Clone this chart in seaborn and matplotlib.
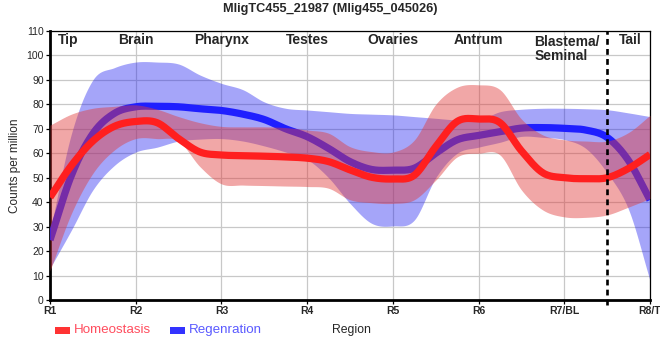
import numpy as np
import pandas as pd
import matplotlib
matplotlib.use("Agg")
import matplotlib.pyplot as plt
import seaborn as sns
from matplotlib.patches import Rectangle

# ---------------- data ----------------
title = "MligTC455_21987 (Mlig455_045026)"
tick_labels = ["R1", "R2", "R3", "R4", "R5", "R6", "R7/BL", "R8/T"]
region_names = ["Tip", "Brain", "Pharynx", "Testes", "Ovaries", "Antrum", "Blastema/\nSeminal", "Tail"]

pos = [1, 1.25, 1.5, 1.75, 2, 2.25, 2.5, 2.75, 3, 3.25, 3.5, 3.75, 4, 4.25, 4.5,
       4.75, 5, 5.25, 5.5, 5.75, 6, 6.25, 6.5, 6.75, 7, 7.25, 7.5, 7.75, 8]

homeo_mean = [42, 55, 65, 71, 73, 72.5, 66, 60.5, 59.3, 59, 58.8, 58.5, 58, 56.6, 53.2,
              50.2, 49.5, 51, 62.7, 73, 74, 72.5, 61, 52, 50, 49.6, 50, 53.8, 59.5]
homeo_upper = [71.5, 76, 78.4, 79.2, 79.8, 78, 75, 72.5, 71, 70.8, 70.8, 70.5, 69.5, 68.2, 62.7,
               60.7, 60.5, 65.4, 80, 87, 88, 86, 74, 67.5, 65.5, 65, 65, 68.5, 75.5]
homeo_lower = [12, 35.4, 51.8, 61.3, 66, 66, 65, 54.5, 47.5, 47, 46.8, 46.6, 46.4, 45.7, 41,
               39.8, 39.5, 41, 49, 58.5, 60, 59.3, 45, 36.8, 34, 33.8, 34.8, 38, 41.5]

regen_mean = [24.5, 51, 68, 76.3, 79, 79.2, 79, 78.2, 77.5, 76, 73.8, 70, 66.8, 62, 56.6,
              53.4, 53.1, 53.9, 60, 65.5, 67.3, 68.8, 70.3, 70.5, 70.2, 69.5, 66.5, 57, 40.9]
regen_upper = [28, 68, 90, 95, 97.3, 97.3, 96.5, 92, 88.6, 86, 81, 78.4, 77.7, 77, 76.3,
               76, 75.7, 75, 74.3, 73.6, 73.5, 77, 78, 78.4, 78.4, 78.2, 77.8, 76.5, 75]
regen_lower = [13, 28.6, 45, 55, 60.5, 62.5, 65, 65.8, 66, 65, 63, 60.5, 57.5, 50, 39.5,
               31.4, 30.3, 32.7, 50, 60, 62.5, 64.5, 66.9, 66.5, 65.6, 62, 52, 37, 8]

series_names = ["Homeostasis", "Regenration"]
divider_pos = 7.5


# ---------------- smooth rendering (cardinal / Catmull-Rom Hermite curve) ----------------
def smooth(x, y, xn):
    x = np.asarray(x, float)
    y = np.asarray(y, float)
    h = np.diff(x)
    m = np.empty_like(y)
    m[1:-1] = (y[2:] - y[:-2]) / (x[2:] - x[:-2])
    m[0] = (y[1] - y[0]) / h[0]
    m[-1] = (y[-1] - y[-2]) / h[-1]
    idx = np.clip(np.searchsorted(x, xn) - 1, 0, len(h) - 1)
    t = (xn - x[idx]) / h[idx]
    h00 = 2 * t**3 - 3 * t**2 + 1
    h10 = t**3 - 2 * t**2 + t
    h01 = -2 * t**3 + 3 * t**2
    h11 = t**3 - t**2
    return h00 * y[idx] + h10 * h[idx] * m[idx] + h01 * y[idx + 1] + h11 * h[idx] * m[idx + 1]


xd = np.linspace(pos[0], pos[-1], 700)

sns.set_theme(style="white")
plt.rcParams["font.family"] = ["Liberation Sans", "DejaVu Sans"]

fig = plt.figure(figsize=(6.6, 3.6), dpi=100)
ax = fig.add_axes([50 / 660, 60 / 360, 600 / 660, 269 / 360])

# grid
ax.set_axisbelow(True)
ax.grid(True, color="#c8c8c8", linewidth=0.9)

# blue band and line (drawn first so the red band tints it)
ax.fill_between(xd, smooth(pos, regen_lower, xd), smooth(pos, regen_upper, xd),
                color="#2020f0", alpha=0.4, linewidth=0, zorder=2)
df_r = pd.DataFrame({"x": xd, "y": smooth(pos, regen_mean, xd)})
sns.lineplot(data=df_r, x="x", y="y", ax=ax, color="#1f1fff", linewidth=5.2,
             sort=False, estimator=None, zorder=3, solid_capstyle="butt")

ax.fill_between(xd, smooth(pos, homeo_lower, xd), smooth(pos, homeo_upper, xd),
                color="#e03c3c", alpha=0.45, linewidth=0, zorder=4)
df_h = pd.DataFrame({"x": xd, "y": smooth(pos, homeo_mean, xd)})
sns.lineplot(data=df_h, x="x", y="y", ax=ax, color="#ff1f1f", linewidth=5.2,
             sort=False, estimator=None, zorder=5, solid_capstyle="butt")

# divider
ax.axvline(divider_pos, ymin=-0.02, ymax=1, color="black", linewidth=1.9,
           linestyle=(0, (2.2, 1.6)), zorder=6, clip_on=False)

# axes
ax.set_xlim(1, 8)
ax.set_ylim(0, 110)
ax.set_xticks(range(1, 9))
ax.set_xticklabels(tick_labels, fontsize=7.5, fontweight="bold")
ax.set_yticks(range(0, 111, 10))
ax.set_yticklabels([str(v) for v in range(0, 111, 10)], fontsize=7.5)
ax.tick_params(axis="both", length=3, width=0.9, color="black", pad=1.5, direction="out")
ax.tick_params(axis="x", bottom=True, pad=1)
ax.tick_params(axis="y", left=True)

for side in ["left", "bottom"]:
    ax.spines[side].set_linewidth(2)
    ax.spines[side].set_color("black")
for side in ["top", "right"]:
    ax.spines[side].set_linewidth(0.9)
    ax.spines[side].set_color("black")

ax.set_xlabel("Region", fontsize=8.8)
ax.xaxis.set_label_coords(0.502, -0.09)
ax.set_ylabel("Counts per million", fontsize=8.5)
ax.yaxis.set_label_coords(-0.048, 0.5)

# region names along the top
name_x = [1.21, 2, 3, 4, 5, 6, 6.65, 7.77]
for nm, xx in zip(region_names, name_x):
    if "\n" in nm:
        ax.text(xx, 108.2, nm, ha="left", va="top", fontsize=10, fontweight="bold",
                linespacing=1.0, zorder=7)
    else:
        ax.text(xx, 104.7, nm, ha="center", va="baseline", fontsize=10,
                fontweight="bold", zorder=7)

fig.text(0.5, 1 - 9 / 360, title, ha="center", va="center", fontsize=9.2, fontweight="bold")

# legend
leg_items = [(55, "#ff3333", "#ff4d5e", series_names[0]),
             (170, "#3333ff", "#5a5aff", series_names[1])]
for px, pc, tc, lab in leg_items:
    fig.add_artist(Rectangle((px / 660, (360 - 334) / 360), 15 / 660, 7 / 360,
                             transform=fig.transFigure, color=pc, linewidth=0))
    fig.text((px + 19) / 660, (360 - 330) / 360, lab, ha="left", va="center",
             fontsize=9.6, color=tc)

fig.savefig("out.png", dpi=100)
